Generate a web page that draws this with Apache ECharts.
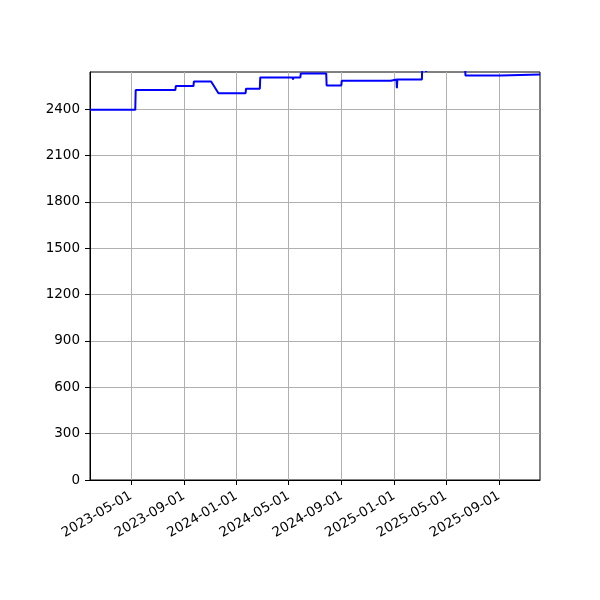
<!DOCTYPE html>
<html>
<head>
<meta charset="utf-8">
<script src="https://cdn.jsdelivr.net/npm/echarts@6/dist/echarts.min.js"></script>
<style>
  html, body { margin: 0; padding: 0; background: #fff; }
  #chart { width: 600px; height: 600px; }
</style>
</head>
<body>
<div id="chart"></div>
<script>
// dates and prices (steps get a point on each side)
const dates = [
  '2023-01-26', '2023-05-11', '2023-05-12', '2023-06-07', '2023-06-08', '2023-06-09',
  '2023-08-12', '2023-08-13', '2023-09-23', '2023-09-24', '2023-11-03', '2023-11-20',
  '2024-01-22', '2024-01-23', '2024-02-24', '2024-02-25', '2024-05-10', '2024-05-11',
  '2024-05-12', '2024-05-28', '2024-05-29', '2024-07-27', '2024-07-28', '2024-08-31',
  '2024-09-01', '2024-12-24', '2024-12-25', '2025-01-06', '2025-01-07', '2025-01-08',
  '2025-03-06', '2025-03-07', '2025-03-15', '2025-03-16', '2025-03-17', '2025-06-14',
  '2025-06-15', '2025-09-05', '2025-09-06', '2025-12-05'
];
const prices = [
  2395, 2395, 2523, 2523, 2512, 2523,
  2523, 2549, 2549, 2578, 2578, 2503,
  2503, 2532, 2532, 2605, 2605, 2592,
  2605, 2605, 2631, 2631, 2553, 2553,
  2583, 2583, 2592, 2592, 2535, 2592,
  2592, 2700, 2700, 2640, 2700, 2700,
  2618, 2618, 2624, 2624
];
const xTicks = ['2023-05-01', '2023-09-01', '2024-01-01', '2024-05-01', '2024-09-01',
                '2025-01-01', '2025-05-01', '2025-09-01'];
const yTicks = [0, 300, 600, 900, 1200, 1500, 1800, 2100, 2400];

// local-time timestamp from yyyy-mm-dd
function ts(s) {
  const p = s.split('-').map(Number);
  return new Date(p[0], p[1] - 1, p[2]).getTime();
}
function pad(n) { return n < 10 ? '0' + n : '' + n; }
function fmt(v) {
  const d = new Date(v);
  return d.getFullYear() + '-' + pad(d.getMonth() + 1) + '-' + pad(d.getDate());
}

const chart = echarts.init(document.getElementById('chart'), null, { renderer: 'canvas' });
const font = 'DejaVu Sans';
const xTickVals = xTicks.map(ts);

const option = {
  animation: false,
  grid: {
    left: 90, right: 60, top: 72, bottom: 120,
    show: true, borderColor: '#000', borderWidth: 1, backgroundColor: 'transparent'
  },
  xAxis: {
    type: 'value',
    min: ts('2023-01-26'),
    max: ts('2025-12-05'),
    axisLine: { lineStyle: { color: '#000', width: 1 } },
    axisTick: { show: true, length: 5, customValues: xTickVals, lineStyle: { color: '#000' } },
    axisLabel: {
      customValues: xTickVals,
      rotate: 30,
      margin: 15,
      color: '#000',
      fontFamily: font,
      fontSize: 13.5,
      formatter: fmt
    },
    splitLine: { show: true, lineStyle: { color: '#b0b0b0', width: 1 } }
  },
  yAxis: {
    type: 'value',
    min: 0,
    max: 2640,
    axisLine: { show: true, lineStyle: { color: '#000', width: 1 } },
    axisTick: { show: true, length: 5, customValues: yTicks, lineStyle: { color: '#000' } },
    axisLabel: {
      customValues: yTicks,
      margin: 10,
      color: '#000',
      fontFamily: font,
      fontSize: 13.5,
      formatter: v => String(v)
    },
    splitLine: { show: true, lineStyle: { color: '#b0b0b0', width: 1 } }
  },
  series: [{
    type: 'line',
    data: dates.map((d, i) => [ts(d), prices[i]]),
    showSymbol: false,
    clip: true,
    lineStyle: { color: '#0000ff', width: 2 },
    itemStyle: { color: '#0000ff' }
  }]
};

chart.setOption(option);
</script>
</body>
</html>
